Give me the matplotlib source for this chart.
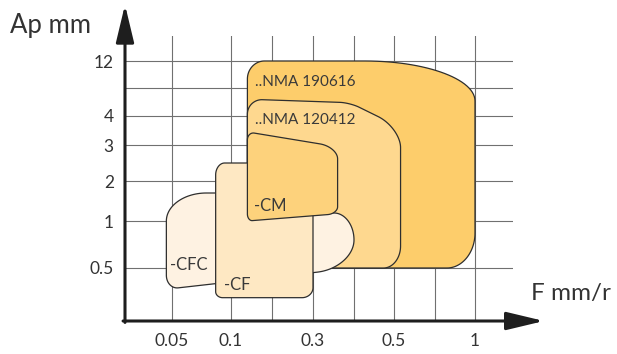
import numpy as np
import matplotlib.pyplot as plt
from matplotlib.patches import Polygon

plt.rcParams['font.family'] = ['Lato', 'DejaVu Sans']

# feed F (mm/r) grid lines and their labels
f_grid = [0.05, 0.1, 0.2, 0.3, 0.4, 0.5, 0.75, 1.0]
f_labels = ['0.05', '0.1', '', '0.3', '', '0.5', '', '1']

# depth of cut Ap (mm) grid lines and their labels
ap_grid = [0.5, 1, 2, 3, 4, 8, 12]
ap_labels = ['0.5', '1', '2', '3', '4', '', '12']

# working areas: outline corners as (F, Ap), clockwise from bottom-left
nma190616_f = [0.14, 0.14, 1.0, 1.0]
nma190616_ap = [0.5, 12, 12, 0.5]
nma120412_f = [0.14, 0.14, 0.39, 0.54, 0.54]
nma120412_ap = [0.5, 6.4, 5.9, 3.6, 0.5]
cfc_f = [0.044, 0.044, 0.33, 0.33, 0.4, 0.4]
cfc_ap = [0.4, 1.7, 1.7, 1.2, 1.2, 0.5]
cf_f = [0.087, 0.087, 0.3, 0.3]
cf_ap = [0.36, 2.5, 2.5, 0.36]
cm_f = [0.14, 0.14, 0.36, 0.36]
cm_ap = [1.0, 3.45, 2.95, 1.18]

# the chart uses a stretched, hand-drawn scale on both axes
F_KNOTS = [0.0] + f_grid + [1.5]
F_POS = [0, 47, 106, 147, 188, 229, 269, 310, 350, 388]
AP_KNOTS = [0.25] + ap_grid + [16]
AP_POS = [0, 53, 100, 140, 176, 205, 233, 260, 285]


def f_fwd(v):
    return np.interp(v, F_KNOTS, F_POS)


def f_inv(p):
    return np.interp(p, F_POS, F_KNOTS)


def ap_fwd(v):
    return np.interp(v, AP_KNOTS, AP_POS)


def ap_inv(p):
    return np.interp(p, AP_POS, AP_KNOTS)


def rounded_outline(ax, fs, aps, corners, n=30):
    """Corner points in data -> smooth outline (data coords).
    corners holds (d_in, d_out) rounding lengths in pixels per corner."""
    pts = ax.transData.transform(np.column_stack([fs, aps]))
    out = []
    m = len(pts)
    for i in range(m):
        c = pts[i]
        d_in, d_out = corners[i]
        if d_in == 0 and d_out == 0:
            out.append(c)
            continue
        prev, nxt = pts[i - 1], pts[(i + 1) % m]
        u_in = (prev - c) / np.linalg.norm(prev - c)
        u_out = (nxt - c) / np.linalg.norm(nxt - c)
        p0 = c + u_in * d_in
        p3 = c + u_out * d_out
        p1 = p0 + 0.55 * (c - p0)
        p2 = p3 + 0.55 * (c - p3)
        t = np.linspace(0, 1, n)[:, None]
        curve = ((1 - t) ** 3 * p0 + 3 * (1 - t) ** 2 * t * p1
                 + 3 * (1 - t) * t ** 2 * p2 + t ** 3 * p3)
        out.extend(curve)
    return ax.transData.inverted().transform(np.array(out))


fig = plt.figure(figsize=(6.17, 3.54), dpi=100)
ax = fig.add_axes([125 / 617, 33 / 354, 388 / 617, 285 / 354])
ax.set_xscale('function', functions=(f_fwd, f_inv))
ax.set_yscale('function', functions=(ap_fwd, ap_inv))
ax.set_xlim(F_KNOTS[0], F_KNOTS[-1])
ax.set_ylim(AP_KNOTS[0], AP_KNOTS[-1])

ax.set_xticks(f_grid, f_labels)
ax.set_yticks(ap_grid, ap_labels)
ax.minorticks_off()
ax.tick_params(length=0, labelsize=12.5, labelcolor='#333333')
ax.tick_params(axis='x', pad=9)
ax.tick_params(axis='y', pad=8)
ax.grid(True, color='#707070', lw=0.8)
ax.set_axisbelow(True)
for s in ax.spines.values():
    s.set_visible(False)

areas = [
    ('..NMA 190616', nma190616_f, nma190616_ap,
     [(0, 0), (18, 17), (110, 40), (35, 28)], '#fdcd6b', 1, (8, -21), 11),
    ('..NMA 120412', nma120412_f, nma120412_ap,
     [(0, 0), (15, 15), (10, 10), (25, 20), (22, 17)], '#fed88f', 1, (8, -21), 11),
    ('-CFC', cfc_f, cfc_ap,
     [(12, 14), (28, 40), (0, 0), (0, 0), (20, 27), (28, 37)], '#fef2e2', 0, (4, 24), 12),
    ('-CF', cf_f, cf_ap,
     [(7, 6), (12, 9), (8, 8), (10, 11)], '#fee8c3', 0, (8, 13), 12),
    ('-CM', cm_f, cm_ap,
     [(5, 7), (8, 7), (18, 12), (7, 10)], '#fdd27c', 0, (7, 15), 12),
]

for z, (name, fs, aps, corners, color, anchor, offset, size) in enumerate(areas):
    xy = rounded_outline(ax, fs, aps, corners)
    ax.add_patch(Polygon(xy, closed=True, facecolor=color, edgecolor='#2e2e2e',
                         lw=0.9, joinstyle='round', zorder=2 + z))
    ax.annotate(name, xy=(fs[anchor], aps[anchor]), xytext=offset,
                textcoords='offset pixels', fontsize=size, color='#3a3a3a',
                va='center', ha='left', zorder=10)

# axis arrows
arrow = dict(arrowstyle='-|>,head_length=2.3,head_width=0.55', mutation_scale=10,
             lw=2.2, color='#1e1e1e', shrinkA=0, shrinkB=0)
ax.annotate('', xy=(1.08, 0), xytext=(-0.005, 0), xycoords='axes fraction',
            arrowprops=arrow, annotation_clip=False)
ax.annotate('', xy=(0, 1.11), xytext=(0, -0.005), xycoords='axes fraction',
            arrowprops=arrow, annotation_clip=False)

fig.text(10 / 617, 1 - 33 / 354, 'Ap mm', fontsize=18.5, color='#333333', va='baseline')
fig.text(531 / 617, 1 - 300 / 354, 'F mm/r', fontsize=17.5, color='#333333', va='baseline')

fig.savefig('out.png', dpi=100)
